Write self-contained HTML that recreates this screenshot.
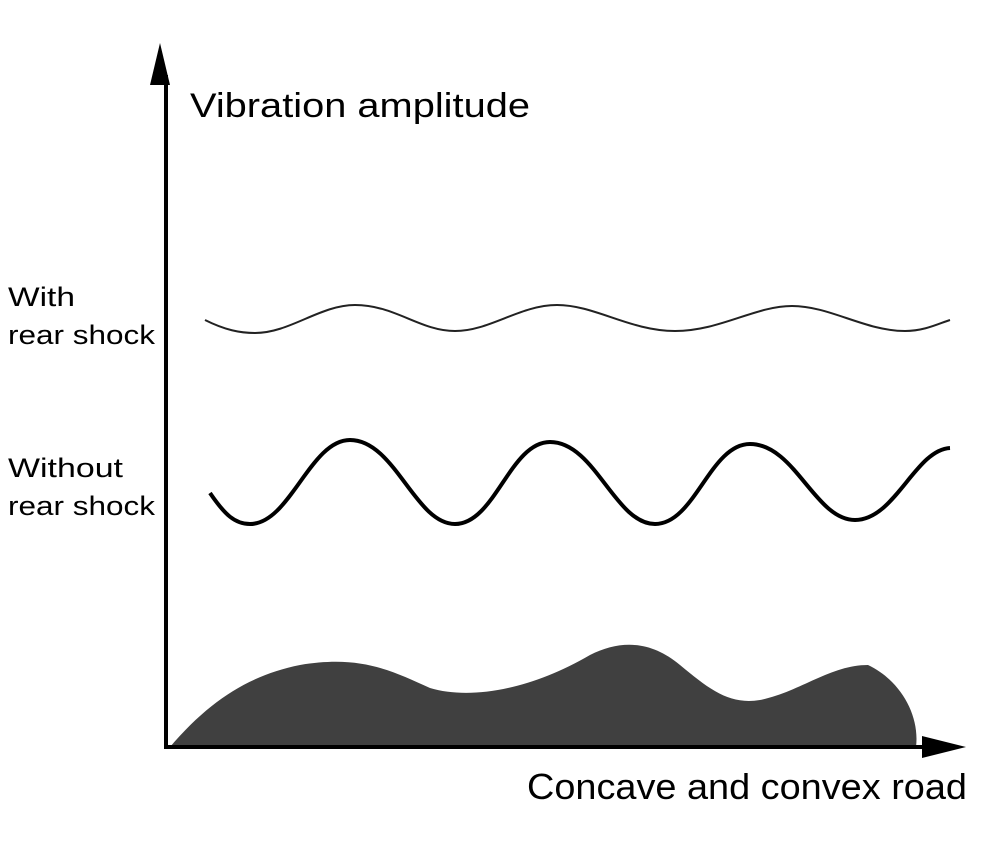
<!DOCTYPE html>
<html><head><style>
body{margin:0;background:#fff;}
svg{display:block}
text{font-family:"Liberation Sans","DejaVu Sans",sans-serif;fill:#000}
</style></head><body>
<svg width="1000" height="844" viewBox="0 0 1000 844">
<path d="M170,747 C210,700 250,675 300,665 C360,655 390,670 430,688 C470,700 530,690 590,655 C620,640 650,640 680,665 C710,690 730,705 760,700 C800,692 830,665 868,665 C900,680 920,715 916,747 Z" fill="#404040"/>
<line x1="166" y1="75" x2="166" y2="749" stroke="#000" stroke-width="4"/>
<polygon points="160,43 150,85 170,85" fill="#000"/>
<line x1="164" y1="747" x2="930" y2="747" stroke="#000" stroke-width="4"/>
<polygon points="966,747 922,736 922,758" fill="#000"/>
<path d="M205,320 C225,330 240,333 255,333 C290,333 320,305 355,305 C395,305 420,331 455,331 C490,331 520,305 557,305 C595,305 630,331 675,331 C720,331 755,306 792,306 C830,306 865,331 905,331 C925,331 940,323 950,320" fill="none" stroke="#222" stroke-width="2"/>
<path d="M210,493 C225,515 235,524 250,524 C290,524 310,440 350,440 C395,440 415,524 455,524 C495,524 510,442 550,442 C595,442 615,524 655,524 C695,524 710,444 750,444 C795,444 815,520 855,520 C895,520 915,450 950,448" fill="none" stroke="#000" stroke-width="4"/>
<text x="190" y="117" font-size="34" textLength="340" lengthAdjust="spacingAndGlyphs">Vibration amplitude</text>
<text x="527" y="799" font-size="36" textLength="440" lengthAdjust="spacingAndGlyphs">Concave and convex road</text>
<text x="8" y="306" font-size="27" textLength="67" lengthAdjust="spacingAndGlyphs">With</text>
<text x="8" y="344" font-size="27" textLength="147" lengthAdjust="spacingAndGlyphs">rear shock</text>
<text x="8" y="477" font-size="27" textLength="115" lengthAdjust="spacingAndGlyphs">Without</text>
<text x="8" y="515" font-size="27" textLength="147" lengthAdjust="spacingAndGlyphs">rear shock</text>
</svg>
</body></html>
